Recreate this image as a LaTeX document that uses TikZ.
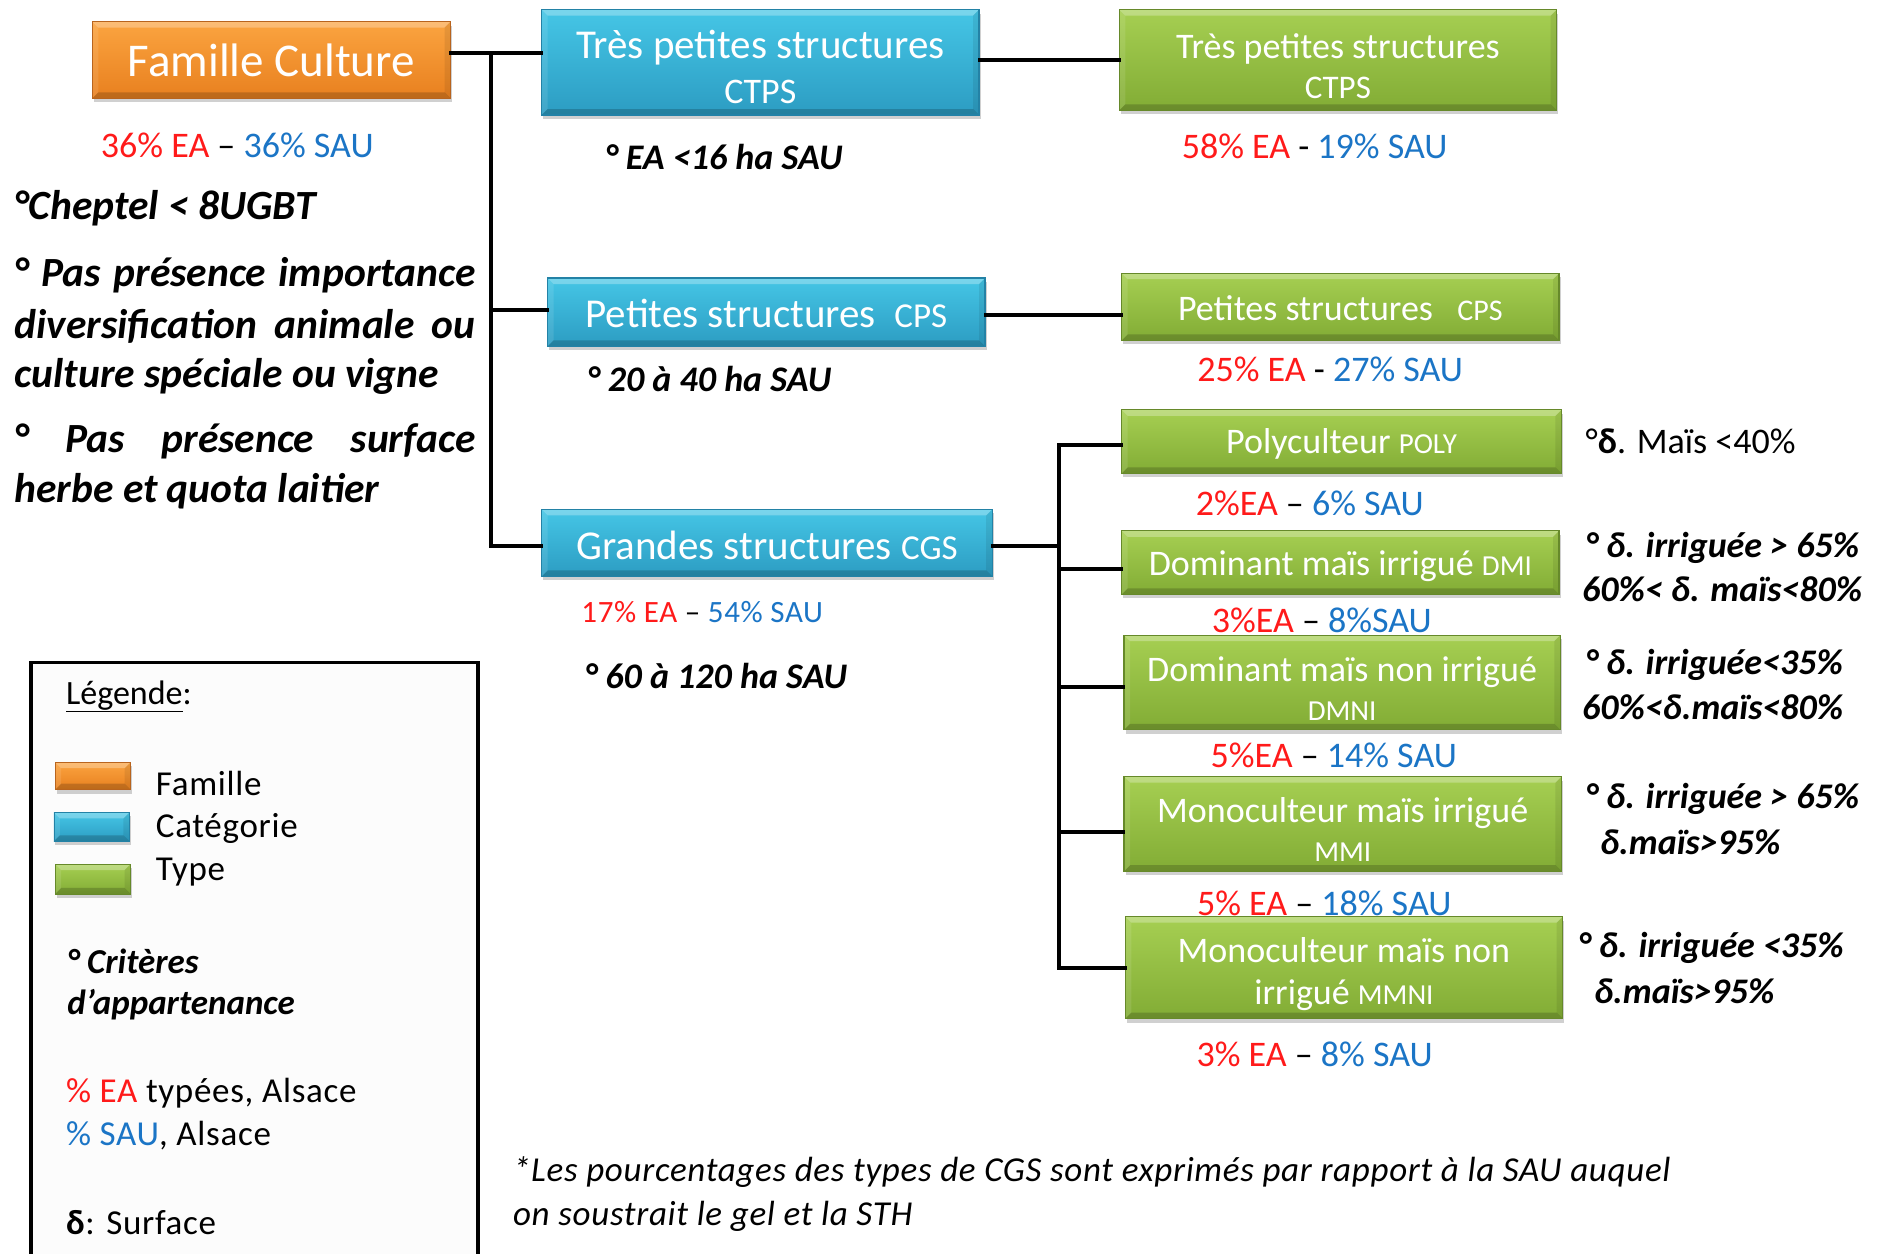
\documentclass[tikz,border=0pt]{standalone}
\usepackage{fontspec}
\setmainfont{Carlito}
\usetikzlibrary{shadows}
\definecolor{eared}{HTML}{FF1A1A}
\definecolor{saublue}{HTML}{1B75C6}
\definecolor{orT}{HTML}{FBA440}
\definecolor{orB}{HTML}{E8801F}
\definecolor{orD}{HTML}{B8641E}
\definecolor{blT}{HTML}{45C6E6}
\definecolor{blB}{HTML}{2C9CC2}
\definecolor{blD}{HTML}{2382A6}
\definecolor{grT}{HTML}{A6CF52}
\definecolor{grB}{HTML}{82AC35}
\definecolor{grD}{HTML}{66892A}
\newcommand\fz[2]{\fontsize{#1pt}{#2pt}\selectfont}
\newcommand\sym{\textbf{δ}}
\newcommand\mybox[9]{%
  \pgfmathsetmacro\bw{(#5-#3)*1.1984}%
  \pgfmathsetmacro\bh{(#6-#4)*1.1984}%
  \node[#2, minimum width=\bw pt, minimum height=\bh pt] (#1) at ({(#3+#5)/2},{(#4+#6)/2}) {};%
  \node[boxtext, font=#7] (#1-t) at ([yshift=-#9*1.1984pt]#1.center) {#8};%
}
\tikzset{
  bevel/.style={path picture={
    \fill[white, opacity=0.28] (path picture bounding box.north west) -- (path picture bounding box.north east)
      -- ([xshift=-6pt,yshift=-6pt]path picture bounding box.north east) -- ([xshift=6pt,yshift=-6pt]path picture bounding box.north west) -- cycle;
    \fill[black, opacity=0.18] (path picture bounding box.south west) -- (path picture bounding box.south east)
      -- ([xshift=-6pt,yshift=6pt]path picture bounding box.south east) -- ([xshift=6pt,yshift=6pt]path picture bounding box.south west) -- cycle;
    \fill[black, opacity=0.08] (path picture bounding box.north east) -- (path picture bounding box.south east)
      -- ([xshift=-6pt,yshift=6pt]path picture bounding box.south east) -- ([xshift=-6pt,yshift=-6pt]path picture bounding box.north east) -- cycle;
    \fill[white, opacity=0.10] (path picture bounding box.north west) -- (path picture bounding box.south west)
      -- ([xshift=6pt,yshift=6pt]path picture bounding box.south west) -- ([xshift=6pt,yshift=-6pt]path picture bounding box.north west) -- cycle;
  }},
  boxbase/.style={draw, line width=1.2pt, inner sep=0pt, bevel,
    drop shadow={shadow xshift=1.5pt, shadow yshift=-4pt, opacity=0.3, fill=black!60}},
  boxtext/.style={text=white, align=center, inner sep=0pt},
  fambox/.style={boxbase, draw=orD, top color=orT, bottom color=orB},
  catbox/.style={boxbase, draw=blD, top color=blT, bottom color=blB},
  typbox/.style={boxbase, draw=grD, top color=grT, bottom color=grB},
  conn/.style={line width=4pt, line cap=rect},
  lbl/.style={anchor=west, inner sep=0pt},
  pct/.style={inner sep=0pt, font=\fz{36}{40}},
  crit/.style={lbl, font=\fz{36}{40}\bfseries\itshape},
  lcrit/.style={lbl, font=\fz{41.5}{46}\bfseries\itshape},
  leg/.style={lbl, font=\fz{35}{38}\addfontfeatures{LetterSpace=2}},
}
\begin{document}
\begin{tikzpicture}[x=1.1984pt,y=-1.1984pt]
\path[use as bounding box, fill=white] (0,0) rectangle (1568,1046);
\begin{scope}
\clip (0,0) rectangle (1568,1046);

% legend frame
\draw[line width=3.6pt, fill=black!1] (26,1060) -- (26,553) -- (399,553) -- (399,1060);

% boxes
\mybox{fam}{fambox}{77}{18}{376}{82}{\fz{47}{50}}{Famille Culture}{0}
\mybox{ctpsB}{catbox}{452}{8}{817}{96}{\fz{41}{45}}{Très petites structures\\{\fz{36}{45}CTPS}}{4}
\mybox{cpsB}{catbox}{457}{232}{822}{289}{\fz{41}{45}}{Petites structures\ \ {\fz{35}{45}CPS}}{1}
\mybox{cgsB}{catbox}{452}{425}{828}{481}{\fz{41}{45}}{Grandes structures {\fz{35}{45}CGS}}{2}
\mybox{ctpsG}{typbox}{934}{8}{1299}{92}{\fz{36}{40}}{Très petites structures\\{\fz{33}{40}CTPS}}{5}
\mybox{cpsG}{typbox}{936}{228}{1301}{284}{\fz{36}{40}}{Petites structures\ \ \ {\fz{30}{40}CPS}}{1}
\mybox{poly}{typbox}{936}{342}{1303}{395}{\fz{36}{40}}{Polyculteur {\fz{29}{40}POLY}}{2}
\mybox{dmi}{typbox}{936}{443}{1301}{496}{\fz{36}{40}}{Dominant maïs irrigué {\fz{29}{40}DMI}}{3}
\mybox{dmni}{typbox}{938}{530}{1302}{609}{\fz{36}{39}}{Dominant maïs non irrigué\\{\fz{29}{39}DMNI}}{5}
\mybox{mmi}{typbox}{938}{648}{1303}{727}{\fz{36}{39}}{Monoculteur maïs irrigué\\{\fz{29}{39}MMI}}{5}
\mybox{mmni}{typbox}{939}{765}{1304}{850}{\fz{36}{42}}{Monoculteur maïs non\\irrigué {\fz{29}{42}MMNI}}{5}

% connectors
\coordinate (t1) at (410,44);
\coordinate (t2) at (884,456);
\draw[conn] (fam.east |- t1) -- (t1) -- (ctpsB.west |- t1);
\draw[conn] (t1) |- (cgsB.west |- 0,456);
\draw[conn] (t1 |- 0,259) -- (cpsB.west |- 0,259);
\draw[conn] (ctpsB.east |- 0,50) -- (ctpsG.west |- 0,50);
\draw[conn] (cpsB.east |- 0,263) -- (cpsG.west |- 0,263);
\draw[conn] (cgsB.east |- t2) -- (t2);
\draw[conn] (poly.west |- 0,371) -- (t2 |- 0,371) -- (t2 |- 0,808) -- (mmni.west |- 0,808);
\draw[conn] (t2 |- 0,475) -- (dmi.west |- 0,475);
\draw[conn] (t2 |- 0,573) -- (dmni.west |- 0,573);
\draw[conn] (t2 |- 0,694) -- (mmi.west |- 0,694);

% percentages
\node[pct] (pfam) at (198,121) {\textcolor{eared}{36\% EA} – \textcolor{saublue}{36\% SAU}};
\node[pct] (pctps) at (1097,122) {\textcolor{eared}{58\% EA} - \textcolor{saublue}{19\% SAU}};
\node[pct] (pcps) at (1110,308) {\textcolor{eared}{25\% EA} - \textcolor{saublue}{27\% SAU}};
\node[pct, font=\fz{31}{35}\addfontfeatures{LetterSpace=2}] (pcgs) at (586,511) {\textcolor{eared}{17\% EA} – \textcolor{saublue}{54\% SAU}};
\node[pct] (ppoly) at (1093,420) {\textcolor{eared}{2\%EA} – \textcolor{saublue}{6\% SAU}};
\node[pct] (pdmi) at (1103,518) {\textcolor{eared}{3\%EA} – \textcolor{saublue}{8\%SAU}};
\node[pct] (pdmni) at (1113,630) {\textcolor{eared}{5\%EA} – \textcolor{saublue}{14\% SAU}};
\node[pct] (pmmi) at (1105,754) {\textcolor{eared}{5\% EA} – \textcolor{saublue}{18\% SAU}};
\node[pct] (pmmni) at (1097,880) {\textcolor{eared}{3\% EA} – \textcolor{saublue}{8\% SAU}};

% criteria under categories
\node[crit] (c1) at (505,131) {° EA <16 ha SAU};
\node[crit] (c2) at (490,316) {° 20 à 40 ha SAU};
\node[crit] (c3) at (488,564) {° 60 à 120 ha SAU};

% left criteria
\node[lcrit] (l1) at (12,174) {°Cheptel < 8UGBT};
\node[lcrit] (l2) at (12,230) {\makebox[461pt][s]{° Pas présence importance}};
\node[lcrit] (l3) at (12,272) {\makebox[461pt][s]{diversification animale ou}};
\node[lcrit] (l4) at (12,314) {culture spéciale ou vigne};
\node[lcrit] (l5) at (12,368) {\makebox[461pt][s]{° Pas présence surface}};
\node[lcrit] (l6) at (12,410) {herbe et quota laitier};

% right criteria
\node[lbl, font=\fz{36}{40}] (r1) at (1323,368) {°\sym. Maïs <40\%};
\node[crit] (r2) at (1323,457) {° \sym. irriguée > 65\%};
\node[crit] (r3) at (1320,492) {60\%< \sym. maïs<80\%};
\node[crit] (r4) at (1323,555) {° \sym. irriguée<35\%};
\node[crit] (r5) at (1320,590) {60\%<\sym.maïs<80\%};
\node[crit] (r6) at (1323,667) {° \sym. irriguée > 65\%};
\node[crit] (r7) at (1335,703) {\sym.maïs>95\%};
\node[crit] (r8) at (1317,791) {° \sym. irriguée <35\%};
\node[crit] (r9) at (1330,827) {\sym.maïs>95\%};

% legend content
\node[leg, font=\fz{34}{38}] (lg) at (55,581) {\underline{Légende}:};
\mybox{sw1}{fambox, line width=0.8pt}{46}{636}{109}{659}{\fz{10}{10}}{}{0}
\mybox{sw2}{catbox, line width=0.8pt}{45}{678}{108}{702}{\fz{10}{10}}{}{0}
\mybox{sw3}{typbox, line width=0.8pt}{46}{721}{109}{746}{\fz{10}{10}}{}{0}
\node[leg] (lf) at (130,654) {Famille};
\node[leg] (lc) at (130,691) {Catégorie};
\node[leg] (lt) at (130,728) {Type};
\node[lbl, font=\fz{35}{38}\bfseries\itshape] (lcr1) at (56,802) {° Critères};
\node[lbl, font=\fz{35}{38}\bfseries\itshape] (lcr2) at (56,838) {d’appartenance};
\node[leg] (lea) at (55,912) {\textcolor{eared}{\% EA} typées, Alsace};
\node[leg] (lsau) at (55,948) {\textcolor{saublue}{\% SAU}, Alsace};
\node[leg] (lsurf) at (55,1020) {\sym: Surface};

% footnote
\node[lbl, font=\fz{35}{38}\itshape\addfontfeatures{LetterSpace=2}] (fn1) at (428,978) {*Les pourcentages des types de CGS sont exprimés par rapport à la SAU auquel};
\node[lbl, font=\fz{35}{38}\itshape\addfontfeatures{LetterSpace=2}] (fn2) at (428,1015) {on soustrait le gel et la STH};
\end{scope}
\end{tikzpicture}
\end{document}
